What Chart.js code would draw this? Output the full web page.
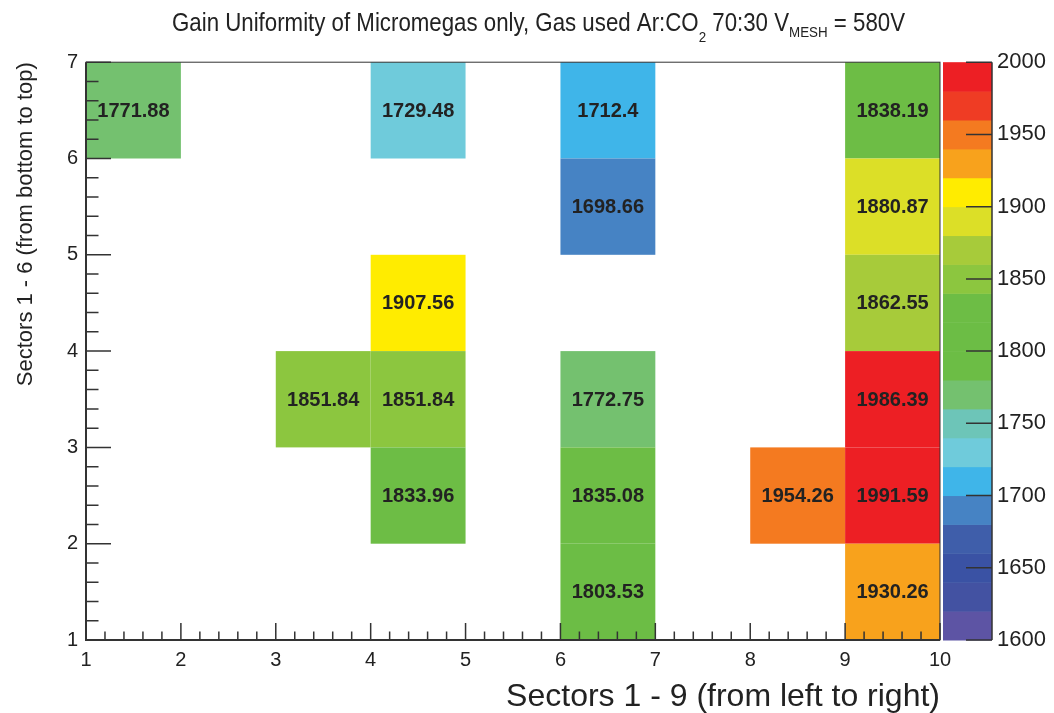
<!DOCTYPE html>
<html>
<head>
<meta charset="utf-8">
<title>Gain Uniformity</title>
<script src="https://cdn.jsdelivr.net/npm/chart.js@4/dist/chart.umd.min.js"></script>
<style>
  body { margin: 0; background: #ffffff; }
  #gainChart { display: block; }
</style>
</head>
<body>
<canvas id="gainChart" width="1054" height="713"></canvas>
<script>
// ====================================================
// Data: filled bins (lower edge of each bin) and contents
// ====================================================
const cellX = [1, 4, 6, 9, 6, 9, 4, 9, 3, 4, 6, 9, 4, 6, 8, 9, 6, 9];
const cellY = [6, 6, 6, 6, 5, 5, 4, 4, 3, 3, 3, 3, 2, 2, 2, 2, 1, 1];
const cellValues = [1771.88, 1729.48, 1712.4, 1838.19, 1698.66, 1880.87,
                    1907.56, 1862.55, 1851.84, 1851.84, 1772.75, 1986.39,
                    1833.96, 1835.08, 1954.26, 1991.59, 1803.53, 1930.26];
const xRange = [1, 10];
const yRange = [1, 7];
const zRange = [1600, 2000];
const zStep = 50;
const binWidth = 1;

// 20 palette contours, from 1600 up to 2000
const paletteColors = [
    '#5d54a4', '#4352a2', '#3a52a4', '#3f5eaa', '#4683c4',
    '#3fb5e9', '#6fcbdb', '#6dc5b8', '#74c16f', '#6cbd45',
    '#6cbd45', '#6dbd45', '#8cc63f', '#a7cb3a', '#dcdf27',
    '#ffec00', '#f8a21c', '#f47a20', '#ef3c24', '#ed1f24'
];

const textColor = '#222222';
const axisColor = '#333333';

function colorFor(v) {
    const n = paletteColors.length;
    let i = Math.floor((v - zRange[0]) / (zRange[1] - zRange[0]) * n);
    i = Math.max(0, Math.min(n - 1, i));
    return paletteColors[i];
}

// ====================================================
// Plugin: cells, text, ticks, frame, palette, title
// ====================================================
const heatmapPlugin = {
    id: 'heatmap',
    afterDatasetsDraw(chart) {
        const ctx = chart.ctx;
        const xs = chart.scales.x;
        const ys = chart.scales.y;
        const zs = chart.scales.z;
        const area = chart.chartArea;

        ctx.save();

        // cells
        for (let i = 0; i < cellValues.length; i++) {
            const x0 = xs.getPixelForValue(cellX[i]);
            const x1 = xs.getPixelForValue(cellX[i] + binWidth);
            const y0 = ys.getPixelForValue(cellY[i]);
            const y1 = ys.getPixelForValue(cellY[i] + binWidth);
            ctx.fillStyle = colorFor(cellValues[i]);
            ctx.fillRect(x0, y1, x1 - x0, y0 - y1);
        }

        // ticks (ROOT style: inside the frame, 4 minor per major)
        ctx.strokeStyle = axisColor;
        ctx.lineWidth = 1.5;
        ctx.beginPath();
        const nx = (xRange[1] - xRange[0]) * 5;
        for (let i = 0; i <= nx; i++) {
            const px = xs.getPixelForValue(xRange[0] + i / 5);
            const len = i % 5 === 0 ? 17 : 8.5;
            ctx.moveTo(px, area.bottom);
            ctx.lineTo(px, area.bottom - len);
        }
        const ny = (yRange[1] - yRange[0]) * 5;
        for (let i = 0; i <= ny; i++) {
            const py = ys.getPixelForValue(yRange[0] + i / 5);
            const len = i % 5 === 0 ? 25 : 12.5;
            ctx.moveTo(area.left, py);
            ctx.lineTo(area.left + len, py);
        }
        ctx.stroke();

        // frame
        ctx.lineWidth = 1;
        ctx.strokeRect(area.left, area.top, area.right - area.left, area.bottom - area.top);
        ctx.lineWidth = 2;
        ctx.beginPath();
        ctx.moveTo(area.left, area.top);
        ctx.lineTo(area.left, area.bottom);
        ctx.lineTo(area.right, area.bottom);
        ctx.stroke();

        // cell contents
        ctx.fillStyle = textColor;
        ctx.font = 'bold 20px "Liberation Sans", Arial, sans-serif';
        ctx.textAlign = 'center';
        ctx.textBaseline = 'middle';
        for (let i = 0; i < cellValues.length; i++) {
            const cx = xs.getPixelForValue(cellX[i] + binWidth / 2);
            const cy = ys.getPixelForValue(cellY[i] + binWidth / 2);
            ctx.fillText(String(cellValues[i]), cx, cy + 1);
        }

        // palette
        const palLeft = area.right + 3;
        const palRight = area.right + 52;
        const n = paletteColors.length;
        for (let i = 0; i < n; i++) {
            const lo = zRange[0] + (zRange[1] - zRange[0]) * i / n;
            const hi = zRange[0] + (zRange[1] - zRange[0]) * (i + 1) / n;
            const yLo = zs.getPixelForValue(lo);
            const yHi = zs.getPixelForValue(hi);
            ctx.fillStyle = paletteColors[i];
            ctx.fillRect(palLeft, yHi, palRight - palLeft, yLo - yHi + 0.5);
        }
        ctx.strokeStyle = axisColor;
        ctx.lineWidth = 1.5;
        ctx.beginPath();
        ctx.moveTo(palRight, zs.getPixelForValue(zRange[0]));
        ctx.lineTo(palRight, zs.getPixelForValue(zRange[1]));
        for (let v = zRange[0]; v <= zRange[1]; v += zStep) {
            const py = zs.getPixelForValue(v);
            ctx.moveTo(palRight, py);
            ctx.lineTo(palRight - 26, py);
        }
        ctx.stroke();

        // title with subscripts, condensed like the ROOT output
        const parts = [
            { t: 'Gain Uniformity of Micromegas only, Gas used Ar:CO', size: 25, dy: 0 },
            { t: '2', size: 15, dy: 11 },
            { t: ' 70:30 V', size: 25, dy: 0 },
            { t: 'MESH', size: 15, dy: 6 },
            { t: ' = 580V', size: 25, dy: 0 }
        ];
        let total = 0;
        parts.forEach(p => {
            ctx.font = p.size + 'px "Liberation Sans", Arial, sans-serif';
            p.w = ctx.measureText(p.t).width;
            total += p.w;
        });
        const titleWidth = 733;
        ctx.translate(172, 31);
        ctx.scale(titleWidth / total, 1);
        ctx.fillStyle = textColor;
        ctx.textAlign = 'left';
        ctx.textBaseline = 'alphabetic';
        let cx = 0;
        parts.forEach(p => {
            ctx.font = p.size + 'px "Liberation Sans", Arial, sans-serif';
            ctx.fillText(p.t, cx, p.dy);
            cx += p.w;
        });

        ctx.restore();
    }
};

// ====================================================
// Chart
// ====================================================
const fontFamily = '"Liberation Sans", Arial, sans-serif';

new Chart(document.getElementById('gainChart'), {
    type: 'scatter',
    data: {
        datasets: [{
            data: cellValues.map((v, i) => ({ x: cellX[i] + binWidth / 2, y: cellY[i] + binWidth / 2 })),
            pointRadius: 0,
            pointHoverRadius: 0
        }]
    },
    options: {
        responsive: false,
        animation: false,
        events: [],
        layout: { padding: { top: 54, left: 0, right: 0, bottom: 0 } },
        plugins: {
            legend: { display: false },
            tooltip: { enabled: false },
            title: { display: false }
        },
        scales: {
            x: {
                type: 'linear',
                position: 'bottom',
                min: xRange[0],
                max: xRange[1],
                afterFit: s => { s.height = 73; },
                grid: { display: false },
                border: { display: false },
                ticks: {
                    stepSize: 1,
                    autoSkip: false,
                    maxRotation: 0,
                    padding: 0,
                    color: textColor,
                    font: { family: fontFamily, size: 20 }
                },
                title: {
                    display: true,
                    text: 'Sectors 1 - 9 (from left to right)',
                    align: 'end',
                    color: textColor,
                    padding: 0,
                    font: { family: fontFamily, size: 32, lineHeight: 1 }
                }
            },
            y: {
                type: 'linear',
                position: 'left',
                min: yRange[0],
                max: yRange[1],
                afterFit: s => { s.width = 86; },
                grid: { display: false },
                border: { display: false },
                ticks: {
                    stepSize: 1,
                    autoSkip: false,
                    padding: 0,
                    color: textColor,
                    font: { family: fontFamily, size: 20 }
                },
                title: {
                    display: true,
                    text: 'Sectors 1 - 6 (from bottom to top)',
                    align: 'end',
                    color: textColor,
                    padding: { top: 13, bottom: 0 },
                    font: { family: fontFamily, size: 22, lineHeight: 1.2 }
                }
            },
            z: {
                type: 'linear',
                position: 'right',
                min: zRange[0],
                max: zRange[1],
                afterFit: s => { s.width = 114; },
                grid: { display: false },
                border: { display: false },
                ticks: {
                    stepSize: zStep,
                    autoSkip: false,
                    padding: 49,
                    color: textColor,
                    font: { family: fontFamily, size: 22 },
                    callback: v => String(v)
                }
            }
        }
    },
    plugins: [heatmapPlugin]
});
</script>
</body>
</html>
